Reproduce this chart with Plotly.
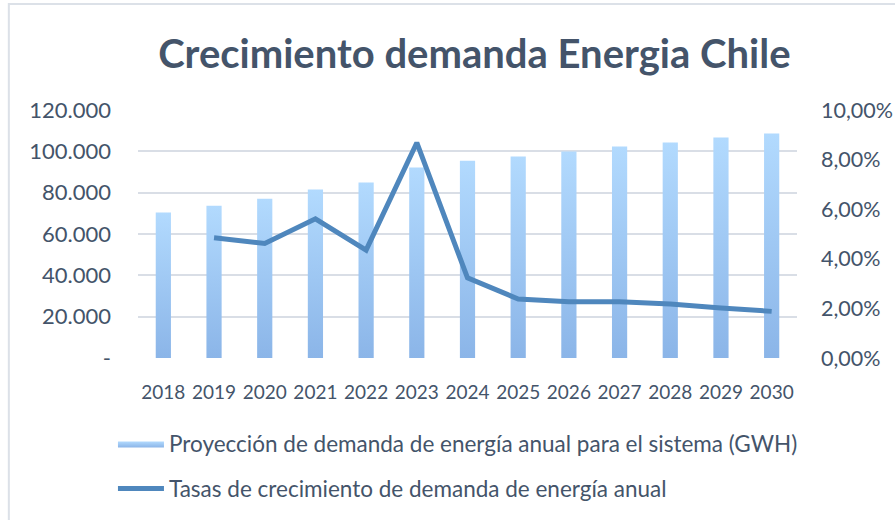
import plotly.graph_objects as go

years = ["2018", "2019", "2020", "2021", "2022", "2023", "2024",
         "2025", "2026", "2027", "2028", "2029", "2030"]
demanda_gwh = [70400, 73700, 77100, 81500, 84900, 92200, 95500,
               97500, 99900, 102300, 104300, 106700, 108600]
tasa_crecimiento = [None, 0.0485, 0.0462, 0.0561, 0.0435, 0.0868, 0.0323,
                    0.0238, 0.0227, 0.0227, 0.0218, 0.0202, 0.0188]

left_tickvals = [0, 20000, 40000, 60000, 80000, 100000, 120000]
left_ticktext = ["-", "20.000", "40.000", "60.000", "80.000", "100.000", "120.000"]
right_tickvals = [0, 0.02, 0.04, 0.06, 0.08, 0.10]
right_ticktext = ["0,00%", "2,00%", "4,00%", "6,00%", "8,00%", "10,00%"]

bar_name = "Proyección de demanda de energía anual para el sistema (GWH)"
line_name = "Tasas de crecimiento de demanda de energía anual"

TXT = "#44546A"
FONT = "Lato"
half = 0.15
grad = dict(type="vertical", colorscale=[[0, "#8BB5E8"], [1, "#B2DAFE"]])

fig = go.Figure()
xs = list(range(len(years)))
for i, v in enumerate(demanda_gwh):
    fig.add_trace(go.Scatter(
        x=[i - half, i + half, i + half, i - half, i - half],
        y=[0, 0, v, v, 0],
        mode="lines", line=dict(width=0, color="#A0C8F4"),
        fill="toself", fillgradient=grad,
        name=bar_name, showlegend=(i == 0), legend="legend",
        hoverinfo="skip",
    ))

fig.add_trace(go.Scatter(
    x=xs, y=tasa_crecimiento, mode="lines", yaxis="y2",
    line=dict(color="#4F87BD", width=5, shape="linear"),
    name=line_name, legend="legend2",
))

fig.update_layout(
    width=895, height=520,
    margin=dict(l=138, r=98, t=110, b=162, autoexpand=False),
    paper_bgcolor="white", plot_bgcolor="white",
    font=dict(family=FONT, color=TXT, size=20),
    title=dict(text="<b>Crecimiento demanda Energia Chile</b>",
               x=0.53, xanchor="center", y=0.8952, yanchor="middle",
               font=dict(family=FONT, size=40, color=TXT)),
    xaxis=dict(range=[-0.5, 12.5], tickvals=xs, ticktext=years,
               showgrid=False, zeroline=False, showline=False,
               ticks="", ticklabelstandoff=21, tickfont=dict(size=19)),
    yaxis=dict(range=[0, 120000], tickvals=left_tickvals, ticktext=left_ticktext,
               showgrid=True, gridcolor="#D9DEE6", gridwidth=1.5,
               zeroline=False, showline=False, ticks="",
               ticklabelstandoff=26, tickfont=dict(size=22)),
    yaxis2=dict(range=[0, 0.10], tickvals=right_tickvals, ticktext=right_ticktext,
                overlaying="y", side="right", showgrid=False, zeroline=False,
                showline=False, ticks="", ticklabelstandoff=23,
                tickfont=dict(size=21.5)),
    legend=dict(x=-0.038, y=-0.346, xanchor="left", yanchor="middle",
                font=dict(size=22.5, color=TXT), itemwidth=46,
                bgcolor="rgba(0,0,0,0)"),
    legend2=dict(x=-0.038, y=-0.528, xanchor="left", yanchor="middle",
                 font=dict(size=22.5, color=TXT), itemwidth=46,
                 bgcolor="rgba(0,0,0,0)"),
    shapes=[dict(type="rect", xref="paper", yref="paper",
                 x0=-0.196, x1=1.3, y0=-1.0, y1=1.427,
                 line=dict(color="#DCE1E8", width=2), fillcolor="rgba(0,0,0,0)",
                 layer="below")],
    showlegend=True,
)

fig.write_html("out.html", config={"displayModeBar": False},
               post_script="document.body.style.margin='0';document.body.style.overflow='hidden';")
